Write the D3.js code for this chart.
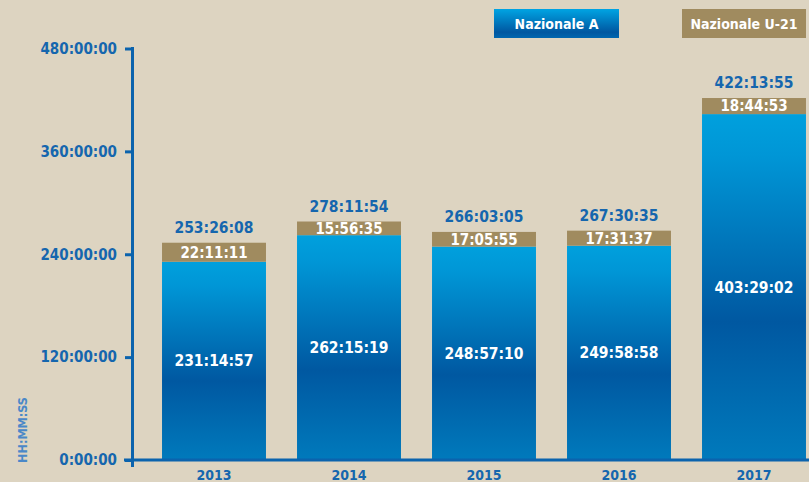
<!DOCTYPE html>
<html>
<head>
<meta charset="utf-8">
<script src="https://cdn.jsdelivr.net/npm/d3@7"></script>
<style>
  html, body { margin: 0; padding: 0; background: #ddd4c1; }
  svg { display: block; font-family: "DejaVu Sans Condensed", "DejaVu Sans", sans-serif; font-stretch: condensed; font-weight: bold; }
  svg text { font-family: "DejaVu Sans Condensed", "DejaVu Sans", sans-serif; font-stretch: condensed; font-weight: bold; }
</style>
</head>
<body>
<svg id="chart" width="809" height="482"></svg>
<script>
// Playing time per season, HH:MM:SS
const years = ["2013", "2014", "2015", "2016", "2017"];
const nazionaleA = ["231:14:57", "262:15:19", "248:57:10", "249:58:58", "403:29:02"];
const nazionaleU21 = ["22:11:11", "15:56:35", "17:05:55", "17:31:37", "18:44:53"];
const tickHours = [0, 120, 240, 360, 480];
const tickLabels = ["0:00:00", "120:00:00", "240:00:00", "360:00:00", "480:00:00"];
const legendLabels = ["Nazionale A", "Nazionale U-21"];

const toSec = s => { const [h, m, x] = s.split(":").map(Number); return h * 3600 + m * 60 + x; };
const fmt = sec => {
  const h = Math.floor(sec / 3600), m = Math.floor((sec % 3600) / 60), s = sec % 60;
  return h + ":" + String(m).padStart(2, "0") + ":" + String(s).padStart(2, "0");
};

const rows = years.map((y, i) => {
  const a = toSec(nazionaleA[i]), u = toSec(nazionaleU21[i]);
  return { year: y, a, u, aLabel: nazionaleA[i], uLabel: nazionaleU21[i], total: fmt(a + u) };
});

const svg = d3.select("#chart");
const BLUE = "#0b63ad", TAN = "#a08b5f", TXT = "#1566ae";

const defs = svg.append("defs");
const g1 = defs.append("linearGradient").attr("id", "barGrad").attr("x1", 0).attr("y1", 0).attr("x2", 0).attr("y2", 1);
g1.append("stop").attr("offset", "0").attr("stop-color", "#00a0dd");
g1.append("stop").attr("offset", "0.12").attr("stop-color", "#0096d6");
g1.append("stop").attr("offset", "0.6").attr("stop-color", "#0058a1");
g1.append("stop").attr("offset", "1").attr("stop-color", "#007abc");
const g2 = defs.append("linearGradient").attr("id", "legGrad").attr("x1", 0).attr("y1", 0).attr("x2", 0).attr("y2", 1);
g2.append("stop").attr("offset", "0").attr("stop-color", "#00a4e3");
g2.append("stop").attr("offset", "0.8").attr("stop-color", "#0057a1");
g2.append("stop").attr("offset", "1").attr("stop-color", "#0066af");

const y = d3.scaleLinear().domain([0, 480 * 3600]).range([460, 48.5]);
const x = d3.scaleBand().domain(years).range([146.5, 821.5]).paddingInner(0.23).paddingOuter(0.115);

// Y axis
const yAxis = d3.axisLeft(y)
  .tickValues(tickHours.map(h => h * 3600))
  .tickFormat((d, i) => tickLabels[i])
  .tickSize(7)
  .tickPadding(8)
  .tickSizeOuter(0);
const ya = svg.append("g").attr("transform", "translate(132,0)").call(yAxis);
ya.attr("font-family", null).attr("font-size", null);
ya.select(".domain").remove();
ya.selectAll(".tick line").attr("stroke", BLUE).attr("stroke-width", 3);
ya.selectAll(".tick text").attr("fill", TXT).style("font-size", "15px");

// Bars
const bars = svg.append("g");
const bw = x.bandwidth();
bars.selectAll("rect.a").data(rows).join("rect")
  .attr("class", "a")
  .attr("x", d => x(d.year)).attr("width", bw)
  .attr("y", d => y(d.a)).attr("height", d => y(0) - y(d.a))
  .attr("fill", "url(#barGrad)");
bars.selectAll("rect.u").data(rows).join("rect")
  .attr("class", "u")
  .attr("x", d => x(d.year)).attr("width", bw)
  .attr("y", d => y(d.a + d.u)).attr("height", d => y(d.a) - y(d.a + d.u))
  .attr("fill", TAN);

// Axis lines
svg.append("line").attr("x1", 132.5).attr("x2", 132.5).attr("y1", 47).attr("y2", 467)
  .attr("stroke", BLUE).attr("stroke-width", 3);
svg.append("line").attr("x1", 124).attr("x2", 809).attr("y1", y(0)).attr("y2", y(0))
  .attr("stroke", BLUE).attr("stroke-width", 3);

// Labels
const labels = svg.append("g").attr("text-anchor", "middle");
labels.selectAll("text.mid").data(rows).join("text")
  .attr("x", d => x(d.year) + bw / 2)
  .attr("y", d => (y(d.a) + y(0)) / 2)
  .attr("dy", "0.36em")
  .attr("fill", "#ffffff").style("font-size", "15.5px")
  .text(d => d.aLabel);
labels.selectAll("text.u").data(rows).join("text")
  .attr("x", d => x(d.year) + bw / 2)
  .attr("y", d => (y(d.a) + y(d.a + d.u)) / 2)
  .attr("dy", "0.36em")
  .attr("fill", "#ffffff").style("font-size", "15px")
  .text(d => d.uLabel);
labels.selectAll("text.tot").data(rows).join("text")
  .attr("x", d => x(d.year) + bw / 2)
  .attr("y", d => y(d.a + d.u) - 10)
  .attr("fill", TXT).style("font-size", "15.5px")
  .text(d => d.total);
labels.selectAll("text.yr").data(rows).join("text")
  .attr("x", d => x(d.year) + bw / 2)
  .attr("y", 480)
  .attr("fill", TXT).style("font-size", "14px")
  .text(d => d.year);

// Axis title
svg.append("text")
  .attr("transform", "translate(27,430) rotate(-90)")
  .attr("text-anchor", "middle")
  .attr("fill", "#4a88c8").style("font-size", "12.5px")
  .text("HH:MM:SS");

// Legend
const legend = [
  { label: legendLabels[0], fill: "url(#legGrad)", x: 494, w: 125 },
  { label: legendLabels[1], fill: TAN, x: 682, w: 124 }
];
const lg = svg.append("g");
lg.selectAll("rect").data(legend).join("rect")
  .attr("x", d => d.x).attr("y", 9).attr("width", d => d.w).attr("height", 29)
  .attr("fill", d => d.fill);
lg.selectAll("text").data(legend).join("text")
  .attr("x", d => d.x + d.w / 2).attr("y", 23.5).attr("dy", "0.36em")
  .attr("text-anchor", "middle").attr("fill", "#ffffff").style("font-size", "14px")
  .text(d => d.label);
</script>
</body>
</html>
